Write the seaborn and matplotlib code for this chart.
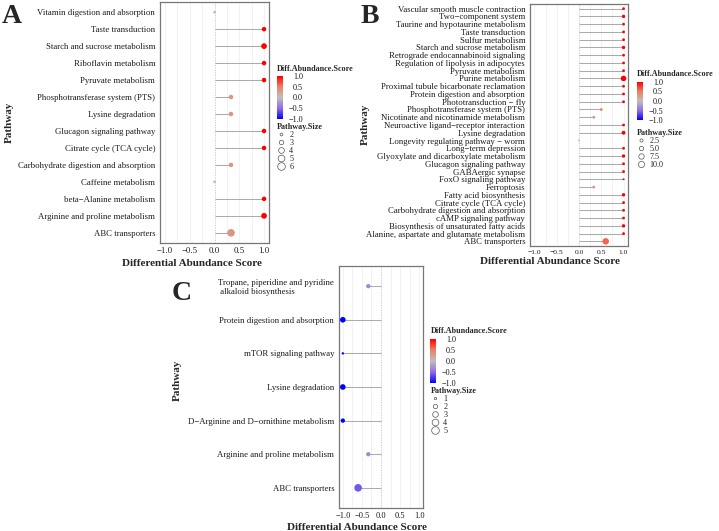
import numpy as np
import pandas as pd
import seaborn as sns
import matplotlib
matplotlib.use("Agg")
import matplotlib.pyplot as plt
from matplotlib.colors import LinearSegmentedColormap, Normalize
from matplotlib.lines import Line2D
import matplotlib.cm as cm

# ---------------- data ----------------
A_pathways = ["Vitamin digestion and absorption", "Taste transduction",
              "Starch and sucrose metabolism", "Riboflavin metabolism",
              "Pyruvate metabolism", "Phosphotransferase system (PTS)",
              "Lysine degradation", "Glucagon signaling pathway",
              "Citrate cycle (TCA cycle)", "Carbohydrate digestion and absorption",
              "Caffeine metabolism", "beta\u2212Alanine metabolism",
              "Arginine and proline metabolism", "ABC transporters"]
A_scores = [0, 1, 1, 1, 1, 0.333, 0.333, 1, 1, 0.333, 0, 1, 1, 0.333]
A_sizes = [2, 3, 4, 3, 3, 3, 3, 3, 3, 3, 2, 3, 4, 6]
A_size_breaks = [2, 3, 4, 5, 6]

B_pathways = ["Vascular smooth muscle contraction", "Two\u2212component system",
              "Taurine and hypotaurine metabolism", "Taste transduction",
              "Sulfur metabolism", "Starch and sucrose metabolism",
              "Retrograde endocannabinoid signaling", "Regulation of lipolysis in adipocytes",
              "Pyruvate metabolism", "Purine metabolism",
              "Proximal tubule bicarbonate reclamation", "Protein digestion and absorption",
              "Phototransduction \u2212 fly", "Phosphotransferase system (PTS)",
              "Nicotinate and nicotinamide metabolism", "Neuroactive ligand\u2212receptor interaction",
              "Lysine degradation", "Longevity regulating pathway \u2212 worm",
              "Long\u2212term depression", "Glyoxylate and dicarboxylate metabolism",
              "Glucagon signaling pathway", "GABAergic synapse",
              "FoxO signaling pathway", "Ferroptosis", "Fatty acid biosynthesis",
              "Citrate cycle (TCA cycle)", "Carbohydrate digestion and absorption",
              "cAMP signaling pathway", "Biosynthesis of unsaturated fatty acids",
              "Alanine, aspartate and glutamate metabolism", "ABC transporters"]
B_scores = [1, 1, 1, 1, 1, 1, 1, 1, 1, 1, 1, 1, 1, 0.5, 0.333, 1, 1, 0, 1, 1,
            1, 1, 1, 0.333, 1, 1, 1, 1, 1, 1, 0.6]
B_sizes = [2, 3, 2, 2, 2, 3, 2, 2, 2, 8, 2, 2, 2, 2, 2, 2, 4, 1, 2, 3,
           2, 2, 1, 2, 3, 2, 2, 2, 3, 2, 11]
B_size_breaks = [2.5, 5.0, 7.5, 10.0]

C_pathways = ["Tropane, piperidine and pyridine\n alkaloid biosynthesis",
              "Protein digestion and absorption", "mTOR signaling pathway",
              "Lysine degradation", "D\u2212Arginine and D\u2212ornithine metabolism",
              "Arginine and proline metabolism", "ABC transporters"]
C_scores = [-0.333, -1, -1, -1, -1, -0.333, -0.6]
C_sizes = [2, 3, 1, 3, 2, 2, 5]
C_size_breaks = [1, 2, 3, 4, 5]

x_ticks = [-1.0, -0.5, 0.0, 0.5, 1.0]

# ---------------- style ----------------
W, H = 719, 531
sns.set_style("white")
plt.rcParams["font.family"] = ["Liberation Serif", "DejaVu Serif"]
plt.rcParams["axes.unicode_minus"] = True

cmap = LinearSegmentedColormap.from_list(
    "diff", [(0.0, "#0000FF"), (0.25, "#926EE2"), (0.5, "#BEBEBE"),
             (0.75, "#ED7F65"), (1.0, "#FF0000")])

fig = plt.figure(figsize=(W / 100, H / 100), dpi=100)


def fx(px):
    return px / W


def fy(py):
    return 1 - py / H


def fmt(v, d=1):
    s = f"{v:.{d}f}"
    return s.replace("-", "\u2212")


def panel(rect, paths, scores, sizes, size_norm, area_rng, xlab_c, ylab_c,
          xtick_size=6.3):
    ax = fig.add_axes(rect)
    n = len(paths)
    pos = np.arange(n)[::-1]
    df = pd.DataFrame({"pathway": paths, "score": scores, "size": sizes, "pos": pos})
    for v in [-1, -0.75, -0.5, -0.25, 0.25, 0.5, 0.75, 1]:
        ax.axvline(v, color="#EDEDED", lw=0.5, zorder=0)
    ax.axvline(0, color="#C4C4C4", lw=0.6, ls=(0, (1.5, 1.5)), zorder=1)
    ax.hlines(df["pos"], 0, df["score"], color="#ABABAB", lw=0.75, zorder=2)
    sns.scatterplot(data=df, x="score", y="pos", hue="score", palette=cmap,
                    hue_norm=(-1, 1), size="size", sizes=area_rng,
                    size_norm=size_norm, legend=False, ax=ax, linewidth=0,
                    zorder=3)
    ax.set_xlim(-1.1, 1.1)
    ax.set_ylim(-0.6, n - 0.4)
    ax.set_yticks(pos, paths)
    ax.set_xticks(x_ticks, [fmt(v) for v in x_ticks])
    ax.tick_params(axis="both", direction="out", length=2, width=0.5,
                   color="#555555", labelsize=6.3, pad=1.5, labelcolor="#1A1A1A")
    ax.tick_params(axis="x", labelsize=xtick_size, pad=1.2)
    for sp in ax.spines.values():
        sp.set_color("#777777")
        sp.set_linewidth(0.9)
    ax.set_xlabel("Differential Abundance Score", fontsize=8, fontweight="bold")
    ax.xaxis.label.set(va="center", ha="center")
    ax.xaxis.set_label_coords(fx(xlab_c[0]), fy(xlab_c[1]), transform=fig.transFigure)
    ax.set_ylabel("Pathway", fontsize=8, fontweight="bold")
    ax.yaxis.label.set(va="center", ha="center")
    ax.yaxis.set_label_coords(fx(ylab_c[0]), fy(ylab_c[1]), transform=fig.transFigure)
    return ax


def colorbar(rect, title_xy):
    cax = fig.add_axes(rect)
    cb = fig.colorbar(cm.ScalarMappable(norm=Normalize(-1, 1), cmap=cmap), cax=cax)
    cb.outline.set_visible(False)
    cb.set_ticks(x_ticks)
    cb.set_ticklabels([fmt(v) for v in x_ticks])
    cax.tick_params(length=1.5, width=0.5, color="white", direction="in",
                    labelsize=5.9, pad=14.4, labelcolor="#1A1A1A")
    for lab in cax.get_yticklabels():
        lab.set_ha("right")
    fig.text(fx(title_xy[0]), fy(title_xy[1]), "Diff.Abundance.Score",
             fontsize=5.9, fontweight="bold", ha="left", va="center")


def size_legend(breaks, size_norm, area_rng, anchor):
    lo, hi = size_norm
    handles = []
    for b in breaks:
        area = area_rng[0] + (b - lo) / (hi - lo) * (area_rng[1] - area_rng[0])
        handles.append(Line2D([], [], marker="o", ls="", markersize=np.sqrt(area),
                              markerfacecolor="none", markeredgecolor="#555555",
                              markeredgewidth=0.5))
    labels = [f"{b:g}" if isinstance(b, int) else f"{b:.1f}" for b in breaks]
    leg = fig.legend(handles, labels, title="Pathway.Size", loc="upper left",
                     bbox_to_anchor=(fx(anchor[0]), fy(anchor[1])),
                     bbox_transform=fig.transFigure, frameon=False, fontsize=5.9,
                     title_fontproperties={"weight": "bold", "size": 5.9},
                     labelspacing=0.0, handlelength=1.0, handletextpad=0.5,
                     borderpad=0, borderaxespad=0, alignment="left")
    return leg


# ---------------- panel A ----------------
A_norm, A_area = (2, 6), (4, 30)
panel([fx(160), fy(243), fx(109), 241 / H], A_pathways, A_scores, A_sizes,
      A_norm, A_area, (191.5, 263), (9, 122))
colorbar([fx(277), fy(119), fx(6), 43 / H], (277, 69))
size_legend(A_size_breaks, A_norm, A_area, (277, 123))
fig.text(fx(1.5), fy(22.7), "A", fontsize=20, fontweight="bold", ha="left", va="baseline")

# ---------------- panel B ----------------
B_norm, B_area = (1, 11), (2, 22)
panel([fx(530), fy(246), fx(98), 242 / H], B_pathways, B_scores, B_sizes,
      B_norm, B_area, (549.5, 262), (365, 124), xtick_size=5.4)
colorbar([fx(637), fy(120), fx(6), 38 / H], (637, 74))
size_legend(B_size_breaks, B_norm, B_area, (637, 129))
fig.text(fx(361), fy(22.7), "B", fontsize=20, fontweight="bold", ha="left", va="baseline")

# ---------------- panel C ----------------
C_norm, C_area = (1, 5), (3, 30)
axC = panel([fx(339), fy(508), fx(84), 242 / H], C_pathways, C_scores, C_sizes,
            C_norm, C_area, (356.5, 527), (177, 380), xtick_size=6.0)
for lab in axC.get_yticklabels():
    lab.set_multialignment("left")
colorbar([fx(430), fy(383), fx(6), 44 / H], (431, 331))
size_legend(C_size_breaks, C_norm, C_area, (431, 387))
fig.text(fx(172), fy(299.5), "C", fontsize=20, fontweight="bold", ha="left", va="baseline")

fig.savefig("out.png", dpi=100)
